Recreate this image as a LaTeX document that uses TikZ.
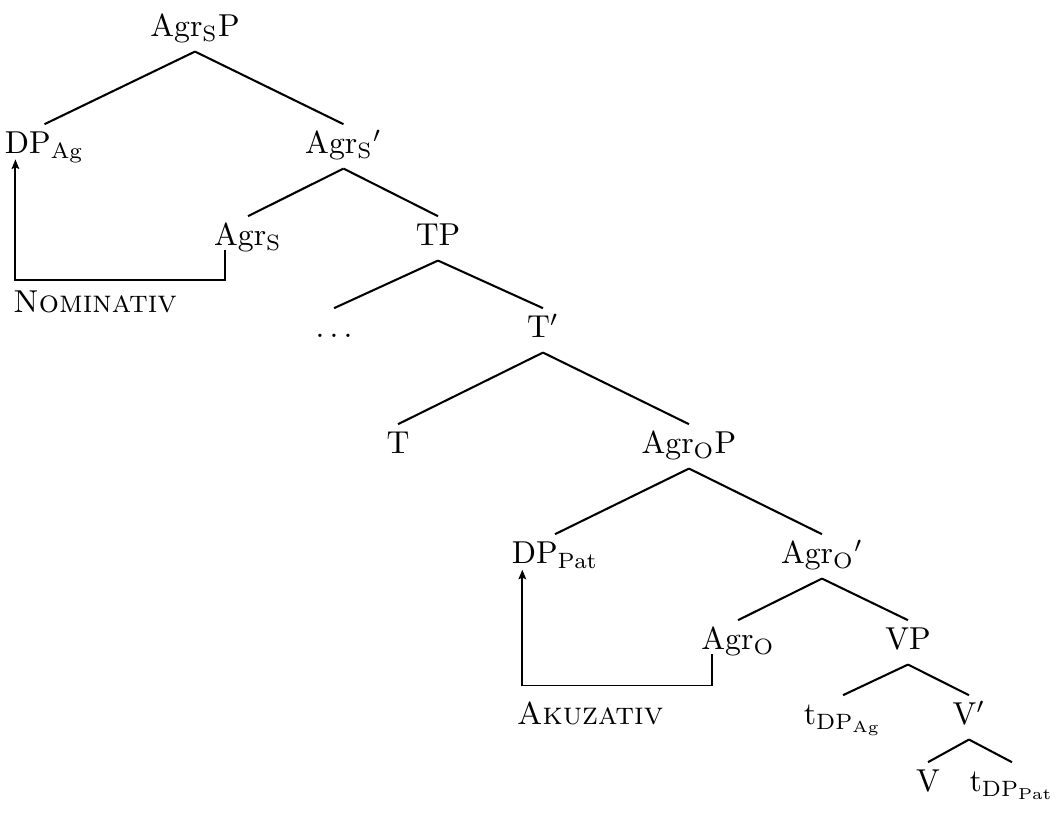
\documentclass[tikz,border=0pt]{standalone}
\usetikzlibrary{arrows.meta}
\begin{document}
\begin{tikzpicture}[x=0.3155pt,y=-0.3155pt,
  lab/.style={anchor=base,inner sep=2.2pt,text height=7pt,text depth=2.2pt},
  edge/.style={line width=0.65pt},
  arr/.style={line width=0.6pt,-{Stealth[length=3pt,width=2.4pt,inset=0.5pt]}}]
\useasboundingbox (0,0) rectangle (1062,819);
% nodes
\node[lab] (AgrSP)  at (195,37)   {Agr$_{\mathrm{S}}$P};
\node[lab] (DPAg)   at (44.5,154) {DP$_{\mathrm{Ag}}$};
\node[lab] (AgrSb)  at (343.5,154){Agr$_{\mathrm{S}}{}'$};
\node[lab] (AgrS)   at (248,246)  {Agr$_{\mathrm{S}}$};
\node[lab] (TP)     at (438,246)  {TP};
\node[lab] (Nom)    at (95,313)   {\textsc{Nominativ}};
\node[lab] (dots)   at (334,338)  {$\ldots$};
\node[lab] (Tb)     at (543,338)  {T$'$};
\node[lab] (T)      at (398,454)  {T};
\node[lab] (AgrOP)  at (689,454)  {Agr$_{\mathrm{O}}$P};
\node[lab] (DPPat)  at (555,564)  {DP$_{\mathrm{Pat}}$};
\node[lab] (AgrOb)  at (822,564)  {Agr$_{\mathrm{O}}{}'$};
\node[lab] (AgrO)   at (738,650)  {Agr$_{\mathrm{O}}$};
\node[lab] (VP)     at (908,650)  {VP};
\node[lab] (Akk)    at (590,725)  {\textsc{Akuzativ}};
\node[lab] (tAg)    at (843,725)  {t$_{\mathrm{DP}_{\mathrm{Ag}}}$};
\node[lab] (Vb)     at (969,725)  {V$'$};
\node[lab] (V)      at (928,792)  {V};
\node[lab] (tPat)   at (1012,792) {t$_{\mathrm{DP}_{\mathrm{Pat}}}$};
% tree edges
\draw[edge] (AgrSP.south) -- (DPAg.north);
\draw[edge] (AgrSP.south) -- (AgrSb.north);
\draw[edge] (AgrSb.south) -- (AgrS.north);
\draw[edge] (AgrSb.south) -- (TP.north);
\draw[edge] (TP.south) -- (dots.north);
\draw[edge] (TP.south) -- (Tb.north);
\draw[edge] (Tb.south) -- (T.north);
\draw[edge] (Tb.south) -- (AgrOP.north);
\draw[edge] (AgrOP.south) -- (DPPat.north);
\draw[edge] (AgrOP.south) -- (AgrOb.north);
\draw[edge] (AgrOb.south) -- (AgrO.north);
\draw[edge] (AgrOb.south) -- (VP.north);
\draw[edge] (VP.south) -- (tAg.north);
\draw[edge] (VP.south) -- (Vb.north);
\draw[edge] (Vb.south) -- (V.north);
\draw[edge] (Vb.south) -- (tPat.north);
% movement arrows
\coordinate (s1) at ([xshift=5.7pt,yshift=-1.2pt]AgrS.base west);
\coordinate (e1) at ([xshift=5.7pt,yshift=-1.7pt]DPAg.base west);
\draw[arr] (s1) -- ++(0,-9.5pt) -| (e1);
\coordinate (s2) at ([xshift=5.7pt,yshift=-1.4pt]AgrO.base west);
\coordinate (e2) at ([xshift=5.7pt,yshift=-1.8pt]DPPat.base west);
\draw[arr] (s2) -- ++(0,-9.8pt) -| (e2);
\end{tikzpicture}
\end{document}
